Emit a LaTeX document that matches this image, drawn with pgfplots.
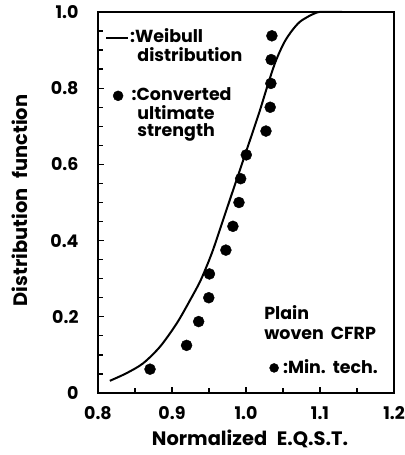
\documentclass[border=0pt]{standalone}
\usepackage{pgfplots}
\pgfplotsset{compat=1.18}
\usepackage{fontspec}
\setmainfont{Poppins}

\begin{document}
\begin{tikzpicture}
\useasboundingbox (-98bp,-62bp) rectangle (307bp,393bp);
\begin{axis}[
  scale only axis,
  width=296bp, height=381bp,
  xmin=0.8, xmax=1.2, ymin=0, ymax=1,
  axis line style={line width=1.6bp},
  tick pos=left,
  tick align=inside,
  xtick={0.8,0.9,1.0,1.1,1.2},
  xticklabels={0.8,0.9,1.0,1.1,1.2},
  minor xtick={0.85,0.95,1.05,1.15},
  ytick={0,0.2,0.4,0.6,0.8,1.0},
  yticklabels={0,0.2,0.4,0.6,0.8,1.0},
  minor ytick={0.05,0.1,0.15,0.25,0.3,0.35,0.45,0.5,0.55,0.65,0.7,0.75,0.85,0.9,0.95},
  major tick length=6bp, minor tick length=5bp,
  every tick/.style={line width=1.3bp, black},
  tick label style={font=\fontsize{17.5}{19}\selectfont\bfseries},
  xticklabel style={yshift=-10bp},
  yticklabel style={xshift=-16bp},
  label style={font=\fontsize{19.5}{21}\selectfont\bfseries},
  xlabel={Normalized\hspace{0.5em}E.Q.S.T.},
  xlabel style={at={(axis description cs:0.5135,-0.12)}, anchor=center},
  ylabel={Distribution\hspace{0.5em}function},
  ylabel style={at={(axis description cs:-0.2635,0.505)}, anchor=center},
  clip=false,
]
% Weibull distribution curve
\addplot[black, line width=2bp, smooth] coordinates {
  (0.816,0.032) (0.8385,0.052) (0.861,0.078) (0.884,0.122) (0.9065,0.183)
  (0.9248,0.245) (0.939,0.297) (0.954,0.368) (0.9678,0.447) (0.9837,0.539)
  (0.9905,0.578) (1.0018,0.643) (1.0177,0.735) (1.029,0.806) (1.0404,0.872)
  (1.054,0.928) (1.0721,0.973) (1.0948,0.998) (1.108,1.0) (1.13,1.0)
};
% Converted ultimate strength, rank i/(n+1), n = 15
\addplot[only marks, mark=*, mark size=5.5bp, black] coordinates {
  (0.8703,0.0625) (0.9197,0.125) (0.936,0.1875) (0.9497,0.25) (0.9506,0.3125)
  (0.9728,0.375) (0.9823,0.4375) (0.9905,0.5) (0.9928,0.5625) (1.0004,0.625)
  (1.027,0.6875) (1.0327,0.75) (1.0336,0.8125) (1.034,0.875) (1.035,0.9375)
};
% key entries
\addplot[black, line width=1.3bp] coordinates {(0.8109,0.932) (0.8408,0.932)};
\addplot[only marks, mark=*, mark size=5bp, black] coordinates {(0.8272,0.780)};
\addplot[only marks, mark=*, mark size=4.5bp, black] coordinates {(1.038,0.0658)};
\begin{scope}[every node/.style={anchor=base west, inner sep=0pt,
    font=\fontsize{17.5}{19}\selectfont\bfseries}]
  \node at (axis cs:0.8431,0.920) {:Weibull};
  \node at (axis cs:0.853,0.869) {distribution};
  \node at (axis cs:0.8453,0.7666) {:Converted};
  \node at (axis cs:0.853,0.7184) {ultimate};
  \node at (axis cs:0.853,0.6745) {strength};
  \node at (axis cs:1.0245,0.192) {Plain};
  \node at (axis cs:1.0245,0.1413) {woven\hspace{0.4em}CFRP};
  \node at (axis cs:1.0499,0.0518) {:Min.\hspace{0.4em}tech.};
\end{scope}
\end{axis}
\end{tikzpicture}
\end{document}
